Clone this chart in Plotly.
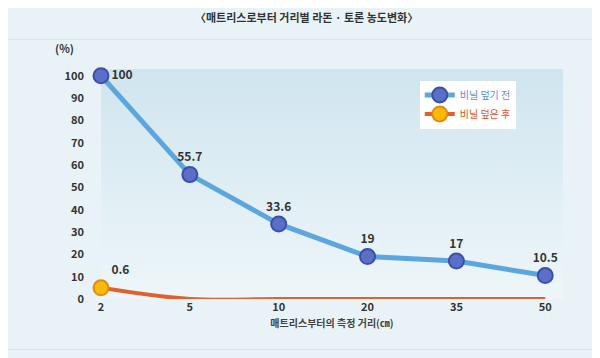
import plotly.graph_objects as go

categories = ["2", "5", "10", "20", "35", "50"]
before_values = [100, 55.7, 33.6, 19, 17, 10.5]
before_labels = ["100", "55.7", "33.6", "19", "17", "10.5"]
after_values = [5, 0, 0, 0, 0, 0]
after_labels = ["0.6", "", "", "", "", ""]
y_ticks = [0, 10, 20, 30, 40, 50, 60, 70, 80, 90, 100]

FONT = "Noto Sans CJK KR"
xs = list(range(len(categories)))

fig = go.Figure()

# gradient plot background
fig.add_trace(go.Scatter(
    x=[0, 5.2, 5.2, 0, 0], y=[0, 0, 103, 103, 0], mode="lines",
    fill="toself", line=dict(width=0),
    fillgradient=dict(type="vertical", colorscale=[[0, "#eef6f9"], [1, "#d0e5ef"]]),
    showlegend=False, hoverinfo="skip"))

ORANGE_LINE = dict(color="#e0602e", width=4, shape="spline", smoothing=1.0)

# orange line through all points
fig.add_trace(go.Scatter(
    x=xs, y=after_values, mode="lines", line=ORANGE_LINE,
    showlegend=False, hoverinfo="skip", cliponaxis=False))

# orange first-point marker + label (also legend entry)
fig.add_trace(go.Scatter(
    x=xs[:1], y=after_values[:1], mode="lines+markers+text",
    name="<span style='color:#e0541f'>비닐 덮은 후</span>",
    line=ORANGE_LINE,
    marker=dict(size=15, color="#f7b90a", line=dict(color="#e58a10", width=2)),
    text=after_labels[:1], textposition="top right",
    textfont=dict(family=FONT, size=12, color="#333", weight="bold"),
    cliponaxis=False))

fig.add_trace(go.Scatter(
    x=xs, y=before_values, mode="lines+markers+text",
    name="<span style='color:#5a8fd2'>비닐 덮기 전</span>",
    line=dict(color="#5ba6de", width=5),
    marker=dict(size=15, color="#5b6fc8", line=dict(color="#3a4fa8", width=2)),
    text=before_labels,
    textposition=["middle right", "top center", "top center", "top center", "top center", "top center"],
    textfont=dict(family=FONT, size=12, color="#333", weight="bold"),
    cliponaxis=False))

fig.update_layout(
    width=600, height=358,
    margin=dict(l=93, r=45, t=61, b=67),
    paper_bgcolor="#e9f3f7", plot_bgcolor="rgba(0,0,0,0)",
    font=dict(family=FONT, size=11, color="#333"),
    showlegend=True,
    legend=dict(x=0.69, y=0.95, xanchor="left", yanchor="top",
                bgcolor="white", font=dict(family=FONT, size=10),
                traceorder="reversed", itemwidth=30, tracegroupgap=4),
    xaxis=dict(range=[0, 5.2], tickmode="array", tickvals=xs, ticktext=categories,
               showgrid=False, zeroline=False, showline=False, ticks="",
               tickfont=dict(family=FONT, size=11, color="#333", weight="bold"),
               title=dict(text="매트리스부터의 측정 거리(㎝)", font=dict(family=FONT, size=10, color="#444", weight="bold"), standoff=6)),
    yaxis=dict(range=[0, 103], tickmode="array", tickvals=y_ticks,
               showgrid=False, zeroline=False, showline=False, ticks="",
               tickfont=dict(family=FONT, size=11, color="#333", weight="bold"), ticklabelstandoff=16),
    annotations=[
        dict(text="〈매트리스로부터 거리별 라돈 · 토론 농도변화〉", xref="paper", yref="paper",
             x=0.445, y=1.225, xanchor="center", yanchor="middle", showarrow=False,
             font=dict(family=FONT, size=11, color="#333", weight="bold")),
        dict(text="(%)", xref="paper", yref="paper", x=-0.055, y=1.09,
             xanchor="right", yanchor="middle", showarrow=False,
             font=dict(family=FONT, size=11, color="#333", weight="bold")),
    ],
    shapes=[
        dict(type="line", xref="x", yref="y", x0=0, x1=0, y0=0, y1=100,
             line=dict(color="#999", width=1.5), layer="below"),
        dict(type="line", xref="paper", yref="paper", x0=-0.201, x1=1.1, y0=1.128, y1=1.128,
             line=dict(color="#d8e6ec", width=1)),
        dict(type="line", xref="paper", yref="paper", x0=-0.201, x1=1.1, y0=-0.22, y1=-0.22,
             line=dict(color="#d8e6ec", width=1)),
    ],
)

fig.write_html("out.html")
